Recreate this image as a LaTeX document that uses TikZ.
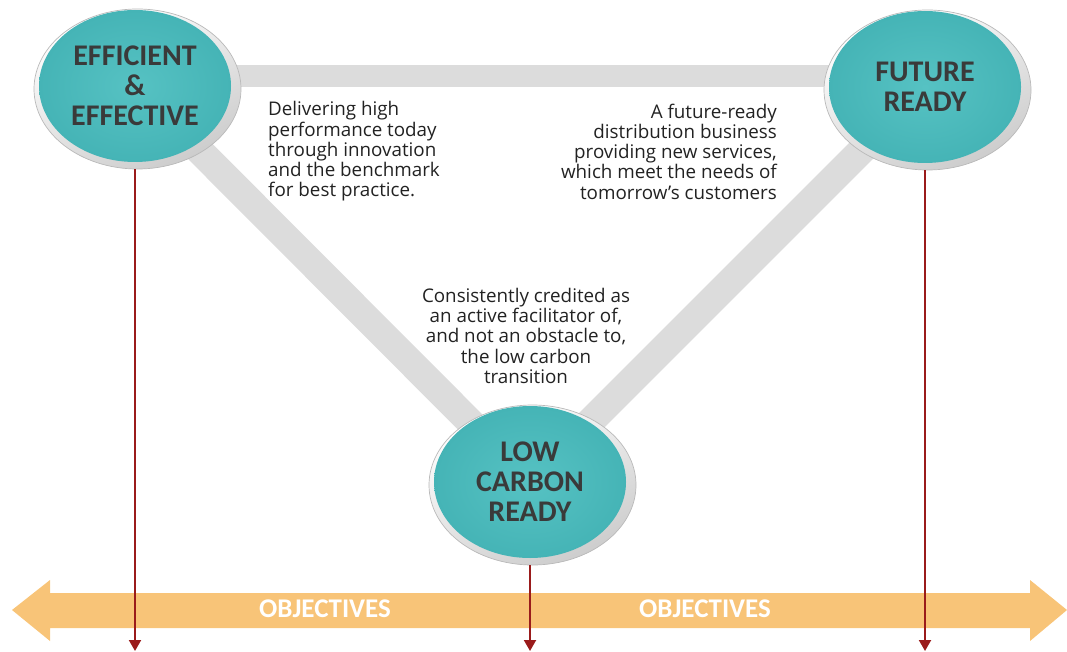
\documentclass[tikz,border=0pt]{standalone}
\usepackage{fontspec}
\setmainfont{Open Sans}
\newfontfamily\headfont{Carlito}
\usetikzlibrary{arrows.meta,shapes.geometric}
\usepackage{xcolor}

\definecolor{tealLight}{HTML}{56C2C3}
\definecolor{tealDark}{HTML}{45B4B6}
\definecolor{barGray}{HTML}{DCDCDC}
\definecolor{objOrange}{HTML}{F8C478}
\definecolor{markRed}{HTML}{9A1B1B}
\definecolor{labelInk}{HTML}{3A3A3A}
\definecolor{bodyInk}{HTML}{222222}

\begin{document}
\begin{tikzpicture}[x=1pt, y=-1pt, >=Stealth,
    bar/.style={draw=barGray, line width=#1},
    rim/.style={ellipse, minimum width=207pt, minimum height=160pt, inner sep=0pt,
                top color=white, bottom color=gray!40, shading angle=25,
                draw=gray!55, line width=0.7pt},
    goal/.style={ellipse, minimum width=192pt, minimum height=152pt, inner sep=0pt,
                 inner color=tealLight, outer color=tealDark, text=labelInk, align=center,
                 font=\headfont\bfseries\fontsize{30}{30}\selectfont},
    blurb/.style={inner sep=0pt, text=bodyInk, font=\fontsize{18.8}{20.2}\selectfont},
    objective/.style={text=white, font=\headfont\bfseries\fontsize{27}{27}\selectfont},
    drop/.style={draw=markRed, line width=2pt, -{Triangle[width=12pt,length=11pt]}}]
  \useasboundingbox (0,0) rectangle (1067,652);

  %% Triangle corners
  \coordinate (effC) at (135,86);
  \coordinate (futC) at (925,87);
  \coordinate (lowC) at (530,482);
  \coordinate (floor) at (0,651);

  %% Grey bars behind the circles
  \draw[bar=22pt] ([yshift=10pt]effC) -- ([yshift=11pt]futC);
  \draw[bar=28pt] (effC) -- (lowC);
  \draw[bar=28pt] (futC) -- (lowC);

  %% Objectives band
  \fill[objOrange] (12,610) -- (50,580) -- (50,593) -- (1030,593) -- (1030,580)
    -- (1067,610) -- (1030,641) -- (1030,628) -- (50,628) -- (50,641) -- cycle;
  \node[objective] (obj1) at (325,609) {OBJECTIVES};
  \node[objective] (obj2) at (705,609) {OBJECTIVES};

  %% Circles
  \node[rim] (eff-rim) at ([xshift=2.5pt,yshift=-3pt]effC) {};
  \node[rim] (fut-rim) at ([xshift=2.5pt,yshift=-3pt]futC) {};
  \node[rim] (low-rim) at ([xshift=2.5pt,yshift=-3pt]lowC) {};
  \node[goal] (eff) at (effC) {EFFICIENT\\\&\\EFFECTIVE};
  \node[goal] (fut) at (futC) {FUTURE\\READY};
  \node[goal] (low) at (lowC) {LOW\\CARBON\\READY};

  %% Descriptions
  \node[blurb, anchor=west, align=left] (effTxt) at (268,151.5)
    {Delivering high\\performance today\\through innovation\\and the benchmark\\for best practice.};
  \node[blurb, anchor=east, align=right] (futTxt) at (777,151.5)
    {A future-ready\\distribution business\\providing new services,\\which meet the needs of\\tomorrow’s customers};
  \node[blurb, anchor=north, align=center] (lowTxt) at (526,288)
    {Consistently credited as\\an active facilitator of,\\and not an obstacle to,\\the low carbon\\transition};

  %% Red drop lines
  \foreach \g in {eff,fut,low}
    \draw[drop] (\g.center |- \g-rim.south) -- (\g.center |- floor);
\end{tikzpicture}
\end{document}
